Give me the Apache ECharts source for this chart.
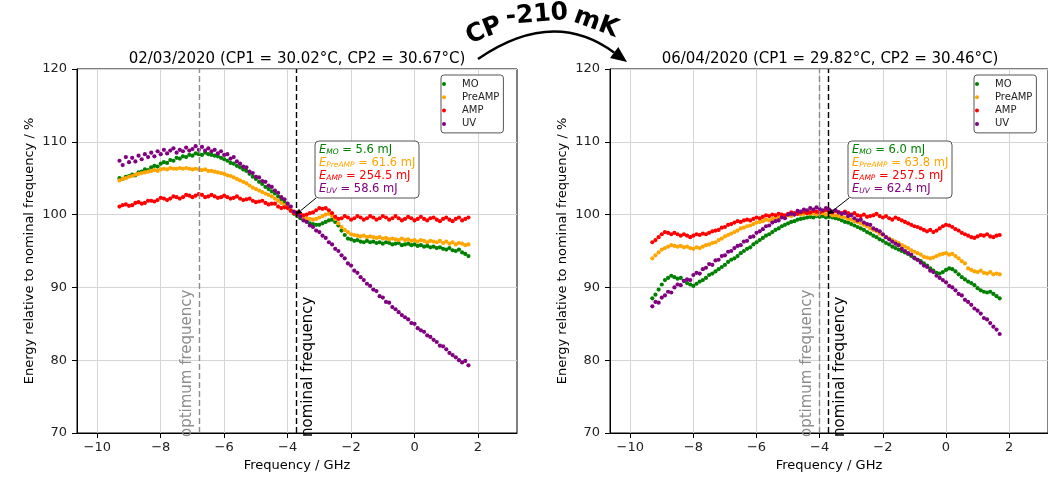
<!DOCTYPE html>
<html lang="en">
<head>
    <meta charset="UTF-8">
    <title>Energy vs frequency</title>
    <script src="https://cdn.jsdelivr.net/npm/echarts@6/dist/echarts.min.js"></script>
    <style>
        body { margin: 0; background: #fff; }
        #main { width: 1048px; height: 477px; }
    </style>
</head>
<body>
<div id="main"></div>
<script>
    // frequency grid (GHz), shared by every series
    var freqGHz = [-9.3,-9.2,-9.1,-9.0,-8.9,-8.8,-8.7,-8.6,-8.5,-8.4,
        -8.3,-8.2,-8.1,-8.0,-7.9,-7.8,-7.7,-7.6,-7.5,-7.4,
        -7.3,-7.2,-7.1,-7.0,-6.9,-6.8,-6.7,-6.6,-6.5,-6.4,
        -6.3,-6.2,-6.1,-6.0,-5.9,-5.8,-5.7,-5.6,-5.5,-5.4,
        -5.3,-5.2,-5.1,-5.0,-4.9,-4.8,-4.7,-4.6,-4.5,-4.4,
        -4.3,-4.2,-4.1,-4.0,-3.9,-3.8,-3.7,-3.6,-3.5,-3.4,
        -3.3,-3.2,-3.1,-3.0,-2.9,-2.8,-2.7,-2.6,-2.5,-2.4,
        -2.3,-2.2,-2.1,-2.0,-1.9,-1.8,-1.7,-1.6,-1.5,-1.4,
        -1.3,-1.2,-1.1,-1.0,-0.9,-0.8,-0.7,-0.6,-0.5,-0.4,
        -0.3,-0.2,-0.1,0.0,0.1,0.2,0.3,0.4,0.5,0.6,
        0.7,0.8,0.9,1.0,1.1,1.2,1.3,1.4,1.5,1.6,1.7];

    // 02/03/2020, energy relative to nominal frequency (%)
    var moMar = [105.0,104.9,105.2,105.3,105.5,105.4,105.8,105.9,106.2,106.1,
        106.5,106.7,106.6,107.0,107.2,107.1,107.5,107.4,107.8,107.7,
        108.0,107.9,108.2,108.1,108.4,108.3,108.2,108.5,108.3,108.2,
        108.1,108.0,107.8,107.6,107.4,107.1,107.0,106.7,106.5,106.2,
        106.0,105.6,105.2,104.9,104.5,104.2,103.8,103.5,103.2,102.9,
        102.5,102.1,101.7,101.2,100.6,100.1,99.8,99.5,99.3,99.1,
        98.8,98.7,98.6,98.6,98.8,99.0,99.2,99.3,99.0,98.5,
        97.8,97.2,96.7,96.6,96.4,96.5,96.3,96.2,96.4,96.2,
        96.3,96.1,96.2,96.0,96.2,96.1,95.9,96.0,96.1,95.8,
        95.9,96.0,95.8,95.9,95.7,95.8,95.6,95.7,95.5,95.6,
        95.4,95.5,95.3,95.2,95.4,95.1,95.0,95.2,94.8,94.6,94.3];
    var preMar = [104.7,104.9,105.0,105.2,105.3,105.5,105.6,105.7,105.8,105.9,
        106.0,106.1,106.0,106.2,106.3,106.2,106.4,106.3,106.3,106.4,
        106.3,106.4,106.3,106.2,106.3,106.2,106.1,106.2,106.0,106.0,
        105.9,105.8,105.7,105.6,105.4,105.3,105.1,104.9,104.7,104.5,
        104.3,104.0,103.7,103.5,103.3,103.1,102.9,102.7,102.5,102.2,
        101.9,101.6,101.3,101.0,100.6,100.2,100.0,99.8,99.6,99.5,
        99.4,99.3,99.4,99.6,99.8,100.0,100.1,99.8,99.4,98.8,
        98.3,97.9,97.6,97.3,97.2,97.1,97.0,97.1,96.9,97.0,
        96.9,96.8,96.9,96.7,96.8,96.6,96.7,96.6,96.5,96.7,
        96.5,96.6,96.4,96.5,96.3,96.5,96.4,96.2,96.4,96.3,
        96.2,96.4,96.1,96.3,96.0,96.2,95.9,96.1,96.0,95.8,95.9];
    var ampMar = [101.1,101.3,101.4,101.2,101.3,101.6,101.7,101.5,101.6,101.9,
        101.9,101.8,102.0,102.3,102.2,102.0,102.2,102.5,102.4,102.2,
        102.4,102.7,102.6,102.4,102.6,102.8,102.7,102.4,102.5,102.7,
        102.5,102.3,102.4,102.6,102.4,102.2,102.3,102.5,102.2,102.0,
        102.1,102.2,101.9,101.7,101.8,101.9,101.6,101.4,101.5,101.5,
        101.1,100.9,101.0,100.9,100.5,100.2,100.3,100.1,99.9,100.0,
        100.2,100.3,100.6,100.9,100.8,100.9,100.6,100.2,99.7,99.4,
        99.5,99.8,99.6,99.3,99.5,99.8,99.6,99.3,99.5,99.8,
        99.6,99.3,99.5,99.8,99.6,99.3,99.5,99.8,99.5,99.2,
        99.4,99.7,99.5,99.2,99.4,99.7,99.4,99.2,99.5,99.6,
        99.3,99.1,99.4,99.6,99.3,99.1,99.4,99.6,99.2,99.4,99.6];
    var uvMar = [107.4,106.8,107.9,107.2,107.8,107.3,108.1,107.6,108.3,107.9,
        108.5,108.0,108.7,108.3,108.9,108.4,108.8,109.1,108.5,108.9,
        108.7,109.2,108.8,109.0,109.4,108.9,109.3,108.8,109.1,108.7,
        108.9,108.4,108.7,108.2,108.3,107.7,107.9,107.3,107.0,106.6,
        106.5,105.9,105.7,105.2,105.1,104.6,104.5,104.0,103.8,103.3,
        103.0,102.4,102.1,101.5,101.1,100.4,100.0,99.7,99.2,99.0,
        98.5,98.3,97.8,97.6,97.1,96.8,96.2,95.9,95.3,95.0,
        94.4,94.0,93.3,93.0,92.3,92.0,91.4,91.0,90.5,90.2,
        89.7,89.5,88.8,88.6,88.0,87.9,87.3,87.0,86.6,86.2,
        85.9,85.6,85.1,85.0,84.4,84.1,83.9,83.4,83.2,82.8,
        82.5,82.0,81.9,81.5,81.0,80.7,80.4,80.0,79.7,79.9,79.3];

    // 06/04/2020
    var moApr = [88.5,89.0,89.7,90.4,91.0,91.3,91.6,91.4,91.2,91.3,
        90.9,90.6,90.4,90.2,90.5,90.8,91.0,91.3,91.7,91.9,
        92.2,92.5,92.8,93.1,93.5,93.8,94.0,94.3,94.7,95.0,
        95.3,95.5,95.9,96.2,96.5,96.8,97.1,97.3,97.6,97.9,
        98.1,98.4,98.6,98.8,99.0,99.1,99.3,99.4,99.5,99.6,
        99.7,99.6,99.8,99.7,99.8,99.6,99.7,99.6,99.5,99.4,
        99.2,99.0,98.9,98.7,98.5,98.3,98.1,97.9,97.6,97.4,
        97.1,96.9,96.6,96.4,96.1,95.9,95.6,95.4,95.2,95.0,
        94.8,94.6,94.3,94.1,93.8,93.6,93.3,93.0,92.6,92.3,
        92.0,91.9,92.1,92.4,92.6,92.5,92.2,91.8,91.4,91.1,
        90.8,90.6,90.3,89.9,89.6,89.4,89.3,89.4,89.1,88.8,88.5];
    var preApr = [94.0,94.4,94.8,95.2,95.4,95.6,95.8,95.7,95.6,95.7,
        95.5,95.6,95.4,95.3,95.5,95.4,95.6,95.8,95.9,96.1,
        96.2,96.5,96.7,97.0,97.2,97.4,97.6,97.8,98.1,98.2,
        98.4,98.5,98.7,98.9,99.0,99.1,99.3,99.2,99.4,99.5,
        99.6,99.7,99.8,99.9,99.8,100.0,100.1,100.0,100.1,100.2,
        100.1,100.2,100.0,100.1,100.2,100.0,100.1,99.9,99.9,99.8,
        99.7,99.6,99.4,99.3,99.1,99.0,98.8,98.6,98.4,98.1,
        97.9,97.7,97.4,97.2,96.9,96.7,96.5,96.3,96.1,95.8,
        95.6,95.4,95.1,94.9,94.7,94.5,94.2,94.1,94.0,94.1,
        94.3,94.5,94.6,94.7,94.5,94.6,94.3,94.0,93.6,93.3,
        92.6,92.4,92.2,92.1,92.3,92.0,91.9,92.1,91.8,91.9,91.8];
    var ampApr = [96.2,96.5,96.9,97.3,97.6,97.5,97.3,97.5,97.3,97.1,
        97.3,97.1,96.9,97.1,97.3,97.2,97.4,97.3,97.5,97.7,
        97.8,97.9,98.2,98.3,98.6,98.7,98.9,99.1,99.0,99.2,
        99.3,99.2,99.4,99.6,99.5,99.7,99.9,99.8,100.0,99.9,
        100.1,100.0,99.9,100.1,100.3,100.2,100.1,100.3,100.4,100.2,
        100.3,100.5,100.4,100.3,100.5,100.6,100.4,100.3,100.5,100.3,
        100.2,100.4,100.2,100.0,100.2,99.9,99.8,100.0,99.7,99.8,
        99.9,100.1,99.8,99.6,99.8,99.5,99.3,99.6,99.4,99.2,
        99.0,98.8,98.6,98.4,98.3,98.1,97.9,97.7,97.9,97.6,
        97.8,98.1,98.4,98.6,98.5,98.3,98.0,97.8,97.5,97.3,
        97.1,96.9,96.8,97.0,97.2,97.1,97.3,97.0,96.9,97.1,97.2];
    var uvApr = [87.4,88.0,87.9,88.6,88.9,89.4,89.3,90.0,90.4,90.3,
        90.9,91.1,91.0,91.7,92.0,91.9,92.5,92.7,93.2,93.1,
        93.7,93.8,94.3,94.4,94.9,95.0,95.4,95.7,95.8,96.3,
        96.4,96.9,97.0,97.5,97.7,98.0,98.4,98.5,98.9,99.1,
        99.2,99.6,99.5,100.0,100.1,100.0,100.5,100.4,100.7,100.6,
        100.9,100.7,101.0,100.8,100.6,100.9,100.7,100.4,100.6,100.3,
        100.1,100.2,99.8,99.9,99.5,99.2,99.3,98.9,98.7,98.6,
        98.1,97.9,97.7,97.3,96.9,96.6,96.3,96.0,95.8,95.3,
        95.0,94.7,94.5,94.0,93.8,93.4,93.0,92.8,92.3,92.1,
        91.6,91.3,91.0,90.7,90.2,90.0,89.6,89.1,88.9,88.3,
        88.0,87.6,87.1,86.8,86.4,85.8,85.6,85.1,84.6,84.2,83.6];

    var seriesNames = ['MO', 'PreAMP', 'AMP', 'UV'];
    var subNames = ['MO', 'PreAMP', 'AMP', 'UV'];
    var seriesColors = ['#008000', '#ffa500', '#ff0000', '#800080'];
    var energyMar = [5.6, 61.6, 254.5, 58.6];
    var energyApr = [6.0, 63.8, 257.5, 62.4];
    var panelTitles = ['02/03/2020 (CP1 = 30.02\u00b0C, CP2 = 30.67\u00b0C)',
        '06/04/2020 (CP1 = 29.82\u00b0C, CP2 = 30.46\u00b0C)'];
    var xTicks = [-10, -8, -6, -4, -2, 0, 2];
    var optimumFreq = [-6.78, -4.0];
    var nominalFreq = -3.74;

    var FONT = 'DejaVu Sans';
    var panelLeft = [77, 610];
    var panels = [[moMar, preMar, ampMar, uvMar], [moApr, preApr, ampApr, uvApr]];

    function minus(v) { return String(v).replace('-', '\u2212'); }
    function pts(vals) {
        return freqGHz.map(function (f, i) { return [f, vals[i]]; });
    }

    var grids = [], xAxes = [], yAxes = [], series = [], legends = [];
    for (var p = 0; p < 2; p++) {
        grids.push({ left: panelLeft[p], top: 69, width: 440, height: 371, show: true,
            borderColor: '#000', borderWidth: 1, backgroundColor: 'transparent' });
        xAxes.push({
            type: 'value', gridIndex: p, min: -10.64, max: 3.23,
            name: 'Frequency / GHz', nameLocation: 'middle', nameGap: 26,
            nameTextStyle: { fontFamily: FONT, fontSize: 13, color: '#000' },
            axisLine: { show: true, onZero: false, lineStyle: { color: '#000' } },
            axisTick: { show: true, customValues: xTicks, length: 5, lineStyle: { color: '#000' } },
            axisLabel: { customValues: xTicks, formatter: minus, fontFamily: FONT, fontSize: 13, color: '#222', margin: 8 },
            splitLine: { show: true, lineStyle: { color: '#d4d4d4', width: 1 } }
        });
        yAxes.push({
            type: 'value', gridIndex: p, min: 70, max: 120, interval: 10,
            name: 'Energy relative to nominal frequency / %', nameLocation: 'middle', nameGap: 41, nameRotate: 90,
            nameTextStyle: { fontFamily: FONT, fontSize: 13, color: '#000' },
            axisLine: { show: true, onZero: false, lineStyle: { color: '#000' } },
            axisTick: { show: true, length: 5, lineStyle: { color: '#000' } },
            axisLabel: { fontFamily: FONT, fontSize: 13, color: '#222', margin: 10 },
            splitLine: { show: true, lineStyle: { color: '#d4d4d4', width: 1 } }
        });
        for (var k = 0; k < 4; k++) {
            var s = {
                type: 'scatter', name: seriesNames[k], xAxisIndex: p, yAxisIndex: p,
                symbolSize: 4.2, itemStyle: { color: seriesColors[k], opacity: 1 },
                data: pts(panels[p][k]), silent: true, animation: false
            };
            if (k === 0) {
                s.markLine = {
                    silent: true, symbol: ['none', 'none'], animation: false,
                    label: { show: true, fontFamily: FONT, fontSize: 15, distance: [-4, 5] },
                    data: [
                        { xAxis: optimumFreq[p], lineStyle: { color: '#8c8c8c', type: [6, 3], width: 1.4 },
                          label: { formatter: 'optimum frequency', position: 'insideStartTop', color: '#8c8c8c' } },
                        { xAxis: nominalFreq, lineStyle: { color: '#000', type: [6, 3], width: 1.4 },
                          label: { formatter: 'nominal frequency', position: 'insideStartBottom', color: '#000' } }
                    ]
                };
            }
            series.push(s);
        }
        legends.push({
            data: seriesNames, orient: 'vertical', left: p === 0 ? 441 : 974, top: 75,
            padding: [3, 4, 3, 1], itemGap: 1.3, itemWidth: 26, itemHeight: 4, icon: 'circle',
            borderColor: '#555', borderWidth: 1, borderRadius: 3, backgroundColor: '#fff',
            textStyle: { fontFamily: FONT, fontSize: 10, color: '#222', lineHeight: 12 }
        });
    }

    var chart = echarts.init(document.getElementById('main'));
    chart.setOption({
        animation: false,
        backgroundColor: '#fff',
        grid: grids, xAxis: xAxes, yAxis: yAxes, legend: legends, series: series
    });

    // annotations: titles, energy boxes with arrows, CP change arrow
    var graphics = [];
    var boxes = [{ x: 315, y: 141, w: 104, h: 57 }, { x: 848, y: 141, w: 104, h: 57 }];
    var energies = [energyMar, energyApr];
    for (var q = 0; q < 2; q++) {
        graphics.push({ type: 'text', x: panelLeft[q] + 220, y: 59,
            style: { text: panelTitles[q], fontFamily: FONT, fontSize: 15, fill: '#000', align: 'center', verticalAlign: 'middle' } });
        var b = boxes[q];
        var tip = chart.convertToPixel({ gridIndex: q }, [nominalFreq, 100]);
        var sx = b.x + 1, sy = b.y + b.h;
        var ang = Math.atan2(tip[1] - sy, tip[0] - sx);
        var hl = 6, hw = 2.5;
        var bx = tip[0] - hl * Math.cos(ang), by = tip[1] - hl * Math.sin(ang);
        graphics.push({ type: 'line', z: 100, shape: { x1: sx, y1: sy, x2: bx, y2: by }, style: { stroke: '#000', lineWidth: 1 } });
        graphics.push({ type: 'polygon', z: 100, shape: { points: [tip,
            [bx - hw * Math.sin(ang), by + hw * Math.cos(ang)], [bx + hw * Math.sin(ang), by - hw * Math.cos(ang)]] },
            style: { fill: '#000' } });
        graphics.push({ type: 'rect', z: 100, shape: { x: b.x, y: b.y, width: b.w, height: b.h, r: 4 },
            style: { fill: 'rgba(255,255,255,0.9)', stroke: '#555', lineWidth: 1 } });
        for (var i = 0; i < 4; i++) {
            var c = seriesColors[i];
            graphics.push({ type: 'text', z: 101, x: b.x + 4, y: b.y + 9 + 13 * i,
                style: {
                    text: '{e|E}{s|' + subNames[i] + '}{v| = ' + energies[q][i].toFixed(1) + ' mJ}',
                    verticalAlign: 'middle', fill: c,
                    rich: {
                        e: { fontFamily: FONT, fontStyle: 'italic', fontSize: 11.5, fill: c },
                        s: { fontFamily: FONT, fontStyle: 'italic', fontSize: 7.5, fill: c, verticalAlign: 'bottom' },
                        v: { fontFamily: FONT, fontSize: 11.5, fill: c }
                    }
                } });
        }
    }
    // curved arrow between the two panels
    graphics.push({ type: 'bezierCurve', shape: { x1: 478, y1: 59, cpx1: 553, cpy1: 7.5, x2: 614, y2: 52.5 },
        style: { fill: 'none', stroke: '#000', lineWidth: 2.5 } });
    graphics.push({ type: 'polygon', shape: { points: [[627, 62], [618.3, 46.9], [610, 58.1]] }, style: { fill: '#000' } });
    var cpParts = [['CP', 484, 31, 0.38], ['-210', 537, 15, 0.08], ['mK', 596, 23, -0.35]];
    cpParts.forEach(function (t) {
        graphics.push({ type: 'text', x: t[1], y: t[2], rotation: t[3],
            style: { text: t[0], fontFamily: FONT, fontWeight: 'bold', fontSize: 25, fill: '#000', align: 'center', verticalAlign: 'middle' } });
    });

    chart.setOption({ graphic: graphics });
</script>
</body>
</html>
